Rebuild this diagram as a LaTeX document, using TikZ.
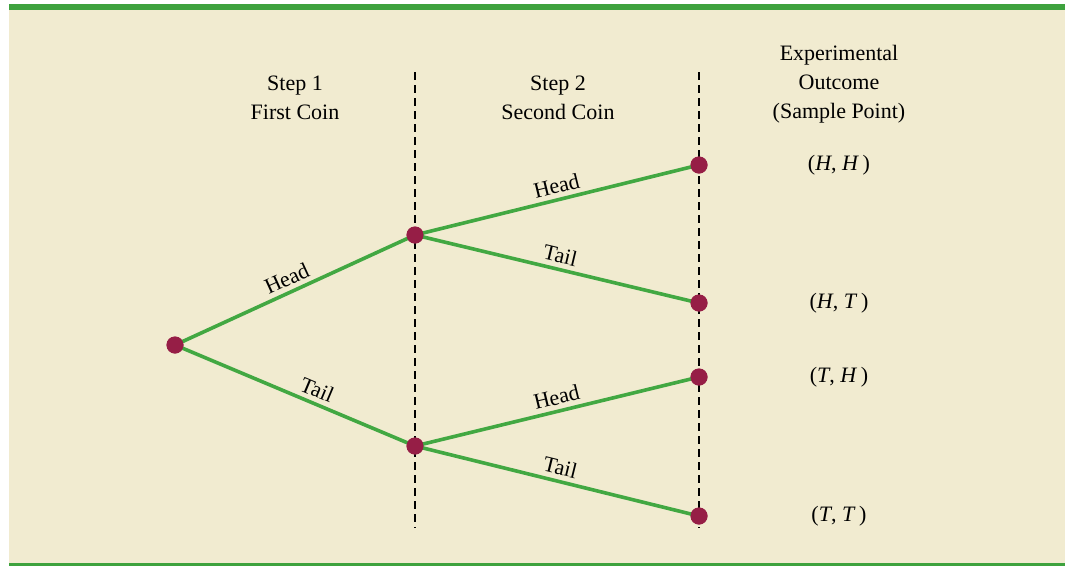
\documentclass[tikz,border=0pt]{standalone}
\usepackage{fontspec}
\setmainfont{Liberation Serif}
\definecolor{cream}{RGB}{241,235,208}
\definecolor{bargreen}{RGB}{62,162,62}
\definecolor{linegreen}{RGB}{66,168,66}
\definecolor{dotred}{RGB}{150,30,70}
\begin{document}
\begin{tikzpicture}[x=1pt,y=-1pt,
  every node/.style={font=\fontsize{22}{29}\selectfont},
  pt/.style={circle,fill=dotred,inner sep=0pt,minimum size=17pt},
  branch/.style={draw=linegreen,line width=3.6pt},
  lbl/.style={sloped,above,inner sep=4.5pt,text=black},
  guide/.style={draw=black,line width=1.6pt,dash pattern=on 8pt off 5pt},
  head/.style={align=center,inner sep=0pt},
  outc/.style={inner sep=0pt}]
\useasboundingbox (0,0) rectangle (1068,566);
\fill[cream] (9,4) rectangle (1065,564);
\fill[bargreen] (9,4) rectangle (1065,10);
\fill[bargreen] (9,563) rectangle (1065,566);
% guides
\coordinate (g1t) at (415,72);
\coordinate (g1b) at (415,528);
\coordinate (g2t) at (699,72);
\coordinate (g2b) at (699,528);
\draw[guide] (g1t) -- (g1b);
\draw[guide] (g2t) -- (g2b);
% headings
\node[head] (h1) at (295,98) {Step 1\\First Coin};
\node[head] (h2) at (558,98) {Step 2\\Second Coin};
\node[head] (h3) at (839,84) {Experimental\\Outcome\\(Sample Point)};
% points
\node[pt] (r) at (175,345) {};
\node[pt] (a) at (415,235) {};
\node[pt] (b) at (415,446) {};
\node[pt] (aa) at (699,165) {};
\node[pt] (ab) at (699,303) {};
\node[pt] (ba) at (699,377) {};
\node[pt] (bb) at (699,516) {};
% branches
\draw[branch] (r.center) -- node[lbl,pos=0.49]{Head} (a.center);
\draw[branch] (r.center) -- node[lbl,pos=0.57]{Tail} (b.center);
\draw[branch] (a.center) -- node[lbl,pos=0.51]{Head} (aa.center);
\draw[branch] (a.center) -- node[lbl,pos=0.50]{Tail} (ab.center);
\draw[branch] (b.center) -- node[lbl,pos=0.51]{Head} (ba.center);
\draw[branch] (b.center) -- node[lbl,pos=0.50]{Tail} (bb.center);
% points on top
\foreach \n in {r,a,b,aa,ab,ba,bb} \fill[dotred] (\n) circle (8.5pt);
% outcomes
\node[outc] (o1) at (839,165) {(\textit{H}, \textit{H}\,)};
\node[outc] (o2) at (839,303) {(\textit{H}, \textit{T}\,)};
\node[outc] (o3) at (839,377) {(\textit{T}, \textit{H}\,)};
\node[outc] (o4) at (839,516) {(\textit{T}, \textit{T}\,)};
\end{tikzpicture}
\end{document}
